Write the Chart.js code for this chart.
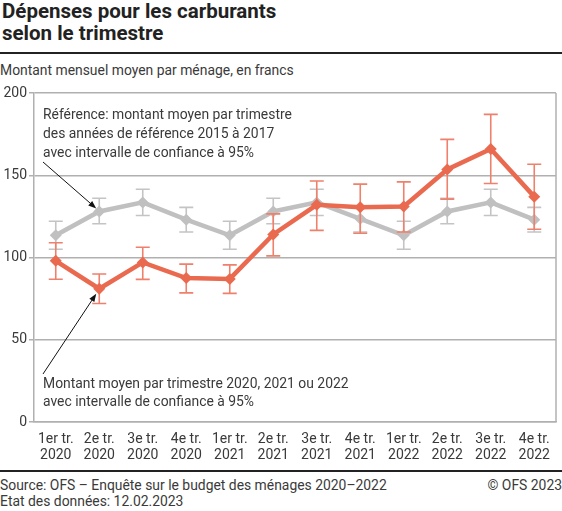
<!DOCTYPE html>
<html>
<head>
<meta charset="utf-8">
<script src="https://cdn.jsdelivr.net/npm/chart.js@4"></script>
<style>
  html, body { margin: 0; padding: 0; background: #fff; }
  body { width: 562px; height: 511px; position: relative; overflow: hidden; font-family: Roboto, sans-serif; color: #3a3a3a; }
  #title { position: absolute; left: 2px; top: 0px; font-size: 20.5px; font-weight: bold; line-height: 22px; color: #222; }
  #rule1 { position: absolute; left: 0; top: 52px; width: 562px; height: 2px; background: #222; }
  #subtitle { position: absolute; left: 0; top: 62px; font-size: 13.9px; }
  #wrap { position: absolute; left: 0; top: 80px; width: 562px; height: 390px; }
  #rule2 { position: absolute; left: 0; top: 470px; width: 562px; height: 1.5px; background: #222; }
  #source { position: absolute; left: 0; top: 477px; font-size: 13.9px; line-height: 16px; }
  #copy { position: absolute; right: 0px; top: 477px; font-size: 13.9px; line-height: 16px; }
</style>
</head>
<body>
<div id="title">Dépenses pour les carburants<br>selon le trimestre</div>
<div id="rule1"></div>
<div id="subtitle">Montant mensuel moyen par ménage, en francs</div>
<div id="wrap"><canvas id="chart"></canvas></div>
<div id="rule2"></div>
<div id="source">Source: OFS – Enquête sur le budget des ménages 2020–2022<br>Etat des données: 12.02.2023</div>
<div id="copy">© OFS 2023</div>
<script>
// trimestres
const quarters = [
  ["1er tr.", "2020"], ["2e tr.", "2020"], ["3e tr.", "2020"], ["4e tr.", "2020"],
  ["1er tr.", "2021"], ["2e tr.", "2021"], ["3e tr.", "2021"], ["4e tr.", "2021"],
  ["1er tr.", "2022"], ["2e tr.", "2022"], ["3e tr.", "2022"], ["4e tr.", "2022"],
];

// référence 2015-2017 (répétée chaque année)
const refMean = [113.5, 128, 133.5, 123, 113.5, 128, 133.5, 123.5, 113.5, 128, 133.5, 123];
const refLow  = [105, 120.5, 125.5, 115.5, 105, 120.5, 125.5, 115.5, 105, 120.5, 125.5, 115.5];
const refHigh = [122, 136, 141.5, 130.5, 122, 136, 141.5, 130.5, 122, 136, 141.5, 130.5];

// 2020-2022
const curMean = [98, 81, 97, 87.5, 87, 114, 132, 130.5, 131, 153.5, 166, 137];
const curLow  = [86.8, 72, 86.7, 78.5, 78.2, 101, 116.5, 114.7, 115.5, 135.5, 145, 117.2];
const curHigh = [109, 90, 106.2, 96, 95.5, 126.5, 146.5, 144.6, 146, 171.8, 187, 156.7];

const yTicks = [0, 50, 100, 150, 200];

const ORANGE = "rgb(234, 106, 80)";
const ORANGE_BAR = "rgb(238, 128, 108)";
const GREY = "rgb(192, 192, 192)";
const GREY_BAR = "rgb(196, 196, 196)";
const FONT = "Roboto, sans-serif";
const TXT = "#3a3a3a";

// barres d'erreur, dessinées juste avant chaque série
const errorBars = {
  id: "errorBars",
  beforeDatasetDraw(chart, args) {
    const ds = chart.data.datasets[args.index];
    if (!ds.low) return;
    const ctx = chart.ctx;
    const y = chart.scales.y;
    ctx.save();
    ctx.strokeStyle = ds.barColor;
    ctx.lineWidth = 1.6;
    args.meta.data.forEach((pt, i) => {
      const x = pt.x;
      const yl = y.getPixelForValue(ds.low[i]);
      const yh = y.getPixelForValue(ds.high[i]);
      ctx.beginPath();
      ctx.moveTo(x, yl); ctx.lineTo(x, yh);
      ctx.moveTo(x - 7, yl); ctx.lineTo(x + 7, yl);
      ctx.moveTo(x - 7, yh); ctx.lineTo(x + 7, yh);
      ctx.stroke();
    });
    ctx.restore();
  },
};

const arrow = (ctx, x1, y1, x2, y2) => {
  const a = Math.atan2(y2 - y1, x2 - x1);
  ctx.beginPath();
  ctx.moveTo(x1, y1); ctx.lineTo(x2 - 5 * Math.cos(a), y2 - 5 * Math.sin(a));
  ctx.stroke();
  ctx.beginPath();
  ctx.moveTo(x2, y2);
  ctx.lineTo(x2 - 8 * Math.cos(a) + 3 * Math.sin(a), y2 - 8 * Math.sin(a) - 3 * Math.cos(a));
  ctx.lineTo(x2 - 8 * Math.cos(a) - 3 * Math.sin(a), y2 - 8 * Math.sin(a) + 3 * Math.cos(a));
  ctx.closePath();
  ctx.fill();
};

// cadre droit + annotations
const notes = {
  id: "notes",
  afterDraw(chart) {
    const ctx = chart.ctx;
    const area = chart.chartArea;
    ctx.save();
    ctx.strokeStyle = "#b0b0b0";
    ctx.lineWidth = 1.5;
    ctx.beginPath();
    ctx.moveTo(area.right, area.top); ctx.lineTo(area.right, area.bottom);
    ctx.stroke();

    ctx.fillStyle = TXT;
    ctx.font = "13.9px " + FONT;
    ctx.textBaseline = "middle";
    const tx = area.left + 9;
    ["Référence: montant moyen par trimestre",
     "des années de référence 2015 à 2017",
     "avec intervalle de confiance à 95%"].forEach((t, i) => ctx.fillText(t, tx, area.top + 23 + i * 19));
    ["Montant moyen par trimestre 2020, 2021 ou 2022",
     "avec intervalle de confiance à 95%"].forEach((t, i) => ctx.fillText(t, tx, area.top + 292 + i * 18));

    ctx.strokeStyle = "#111";
    ctx.fillStyle = "#111";
    ctx.lineWidth = 1;
    const g = chart.getDatasetMeta(0).data[1];
    const o = chart.getDatasetMeta(1).data[1];
    arrow(ctx, tx, area.top + 69, g.x - 3, g.y - 3);
    arrow(ctx, tx, area.top + 281, o.x - 3, o.y + 5);
    ctx.restore();
  },
};

new Chart(document.getElementById("chart").getContext("2d"), {
  type: "line",
  data: {
    labels: quarters,
    datasets: [
      {
        data: refMean,
        low: refLow,
        high: refHigh,
        barColor: GREY_BAR,
        borderColor: GREY,
        backgroundColor: GREY,
        borderWidth: 4.5,
        pointStyle: "rectRot",
        pointRadius: 6,
        pointBorderWidth: 0,
        tension: 0,
        order: 2,
      },
      {
        data: curMean,
        low: curLow,
        high: curHigh,
        barColor: ORANGE_BAR,
        borderColor: ORANGE,
        backgroundColor: ORANGE,
        borderWidth: 4.5,
        pointStyle: "rectRot",
        pointRadius: 6,
        pointBorderWidth: 0,
        tension: 0,
        order: 1,
      },
    ],
  },
  options: {
    responsive: true,
    maintainAspectRatio: false,
    animation: false,
    layout: { padding: { top: 13, right: 1, left: 0, bottom: 0 } },
    plugins: {
      legend: { display: false },
      tooltip: { enabled: false },
    },
    scales: {
      x: {
        offset: true,
        grid: { display: false, drawTicks: false },
        border: { display: true, color: "#b0b0b0", width: 1.5 },
        ticks: {
          color: TXT,
          font: { family: FONT, size: 14, lineHeight: 1.15 },
          padding: 9,
          maxRotation: 0,
          autoSkip: false,
        },
        afterFit(scale) { scale.height = 48; },
      },
      y: {
        min: 0,
        max: 200,
        afterBuildTicks(scale) { scale.ticks = yTicks.map((v) => ({ value: v })); },
        grid: { color: "#b0b0b0", lineWidth: 1.5, tickLength: 5 },
        border: { display: true, color: "#b0b0b0", width: 1.5 },
        ticks: {
          color: TXT,
          font: { family: FONT, size: 14 },
          padding: 2,
        },
        afterFit(scale) { scale.width = 34; },
      },
    },
  },
  plugins: [errorBars, notes],
});
</script>
</body>
</html>
